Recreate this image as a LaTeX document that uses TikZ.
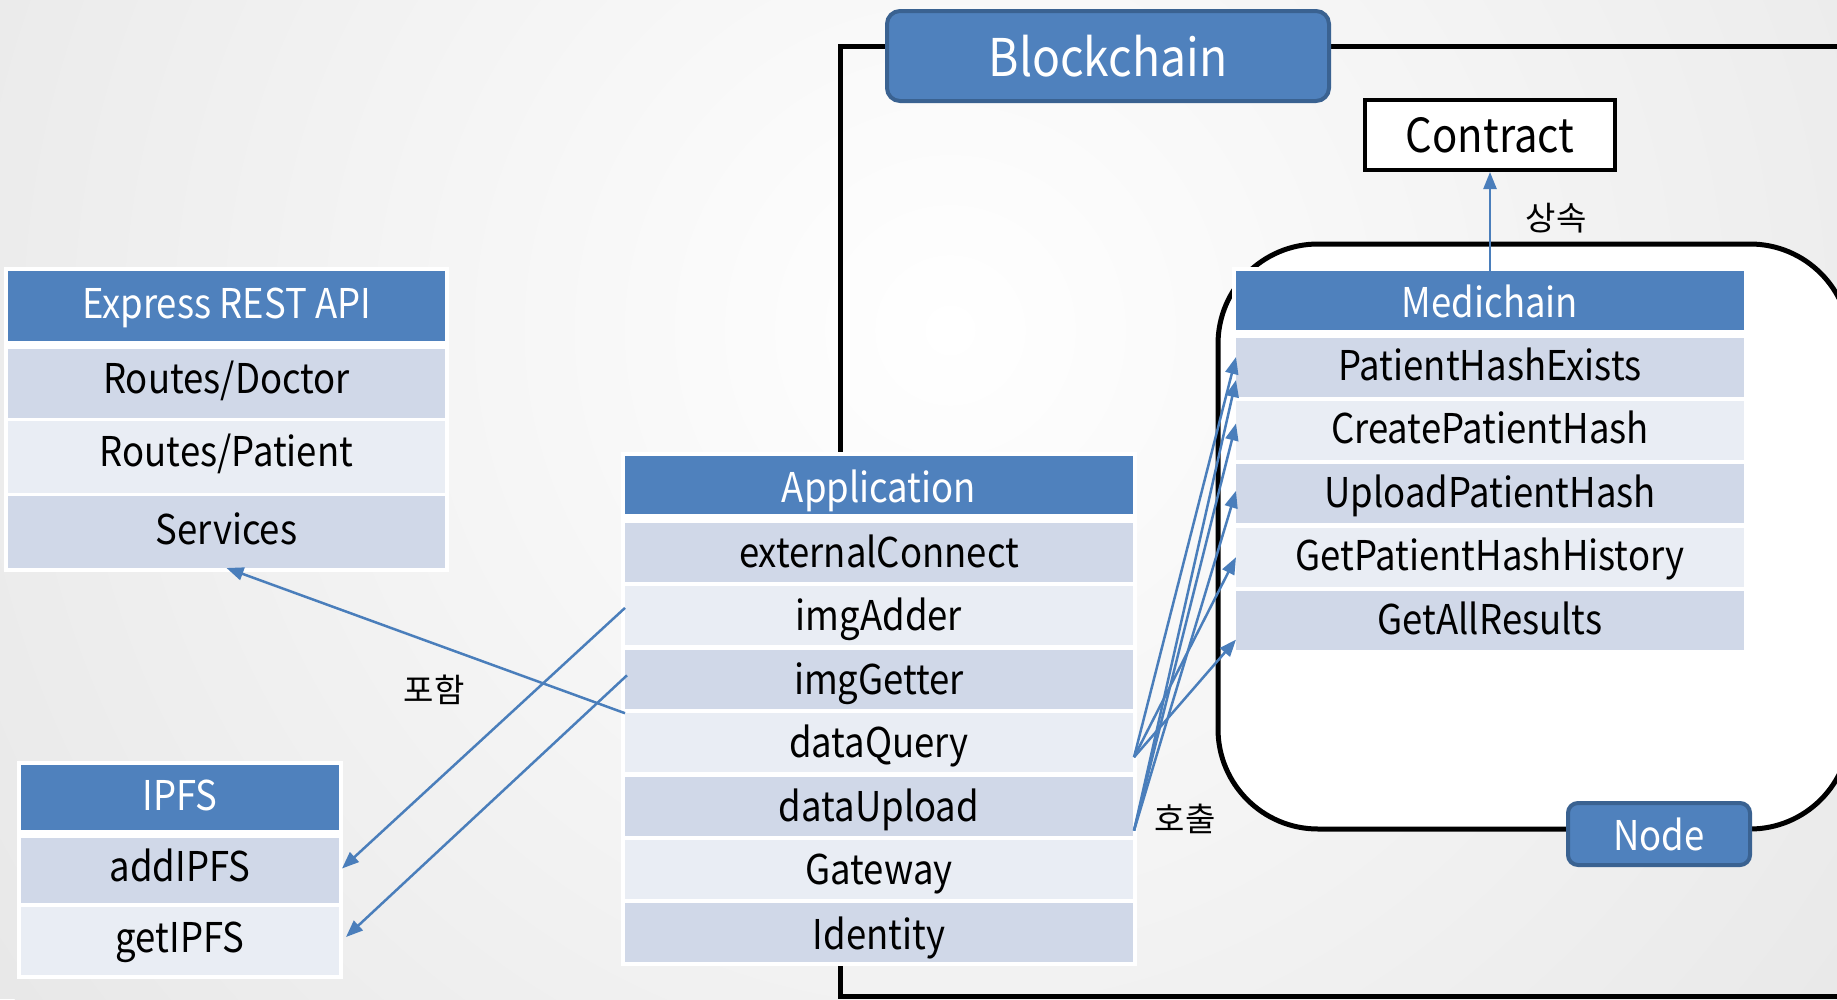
\documentclass[tikz,border=0pt]{standalone}
\usepackage{fontspec}
\setmainfont[FakeStretch=0.89]{Noto Sans CJK KR}
\newfontfamily\kofont{Noto Sans CJK KR}
\usetikzlibrary{arrows.meta,calc}
\definecolor{hdr}{HTML}{4F81BD}
\definecolor{rowd}{HTML}{D0D8E8}
\definecolor{rowl}{HTML}{E9EDF4}
\definecolor{bord}{HTML}{3A6291}
\definecolor{arr}{HTML}{4A7EBB}
\tikzset{
  cellbase/.style={inner sep=0pt, outer sep=0pt, font=\fontsize{41}{49}\selectfont},
  hcell/.style={cellbase, fill=hdr, text=white},
  dcell/.style={cellbase, fill=rowd, text=black},
  lcell/.style={cellbase, fill=rowl, text=black},
  exptxt/.style={text height=29pt, text depth=10pt},
  ipfstxt/.style={text height=29pt, text depth=7pt},
  apptxt/.style={text height=35pt, text depth=5pt},
  medtxt/.style={text height=33pt, text depth=6pt},
  exphtxt/.style={text height=34pt, text depth=10pt},
  ipfshtxt/.style={text height=33pt, text depth=7pt},
  apphtxt/.style={text height=39pt, text depth=5pt},
  medhtxt/.style={text height=39pt, text depth=6pt},
  backing/.style={fill=white, inner sep=0pt, outer sep=0pt},
  titlebox/.style={draw=bord, line width=4pt, fill=hdr, text=white, rounded corners=13pt, inner sep=0pt},
  conn/.style={draw=arr, line width=2.5pt, -{Triangle[length=17pt,width=13pt]}},
  lbl/.style={font=\kofont\fontsize{33}{36}\selectfont, text=black, inner sep=0pt}
}
\begin{document}
\begin{tikzpicture}[x=1pt,y=-1pt]
\useasboundingbox (0,0) rectangle (1837,999);
% background
\fill[black!9] (0,0) rectangle (1837,999);
\shade[inner color=white, outer color=black!9] (950,330) circle (1150);

% Blockchain frame and Node container
\node[draw, line width=5pt, minimum width=1020pt, minimum height=950pt, inner sep=0pt] (bcframe) at (1350,521) {};
\node[draw, line width=5pt, fill=white, rounded corners=100pt, minimum width=632pt, minimum height=585pt, inner sep=0pt] (nodebox) at (1534,536.5) {};

% Express REST API
\node[backing, minimum width=445pt, minimum height=305pt] (expbg) at (226.5,419.5) {};
\node[hcell, exphtxt, minimum width=437pt, minimum height=70pt] (exph) at (226.5,306) {Express REST API};
\node[dcell, exptxt, minimum width=437pt, minimum height=69pt] (doctor) at (226.5,383.5) {Routes/Doctor};
\node[lcell, exptxt, minimum width=437pt, minimum height=72pt] (patient) at (226.5,457) {Routes/Patient};
\node[dcell, exphtxt, minimum width=437pt, minimum height=72pt] (services) at (226.5,532) {Services};

% IPFS
\node[backing, minimum width=326pt, minimum height=218pt] (ipfsbg) at (180,870) {};
\node[hcell, ipfshtxt, minimum width=318pt, minimum height=65pt] (ipfsh) at (180,797.5) {IPFS};
\node[dcell, ipfstxt, minimum width=318pt, minimum height=65pt] (addIPFS) at (180,870.5) {addIPFS};
\node[lcell, ipfstxt, minimum width=318pt, minimum height=68pt] (getIPFS) at (180,941) {getIPFS};

% Application
\node[backing, minimum width=516pt, minimum height=514pt] (appbg) at (879,709) {};
\node[hcell, apphtxt, minimum width=508pt, minimum height=58pt] (apph) at (879,485) {Application};
\node[dcell, apptxt, minimum width=508pt, minimum height=59pt] (externalConnect) at (879,552.5) {externalConnect};
\node[lcell, apptxt, minimum width=508pt, minimum height=59pt] (imgAdder) at (879,615.9) {imgAdder};
\node[dcell, apptxt, minimum width=508pt, minimum height=59pt] (imgGetter) at (879,679.3) {imgGetter};
\node[lcell, apptxt, minimum width=508pt, minimum height=59pt] (dataQuery) at (879,742.7) {dataQuery};
\node[dcell, apptxt, minimum width=508pt, minimum height=59pt] (dataUpload) at (879,806.1) {dataUpload};
\node[lcell, apptxt, minimum width=508pt, minimum height=59pt] (gateway) at (879,869.5) {Gateway};
\node[dcell, apphtxt, minimum width=508pt, minimum height=59pt] (identity) at (879,932.9) {Identity};

% Medichain
\node[backing, minimum width=516pt, minimum height=387pt] (medbg) at (1490,460.5) {};
\node[hcell, medhtxt, minimum width=508pt, minimum height=59pt] (medh) at (1490,300.5) {Medichain};
\node[dcell, medtxt, minimum width=508pt, minimum height=59pt] (phe) at (1490,367) {PatientHashExists};
\node[lcell, medtxt, minimum width=508pt, minimum height=59pt] (cph) at (1490,430.4) {CreatePatientHash};
\node[dcell, medtxt, minimum width=508pt, minimum height=59pt] (uph) at (1490,493.8) {UploadPatientHash};
\node[lcell, medtxt, minimum width=508pt, minimum height=59pt] (gphh) at (1490,557.2) {GetPatientHashHistory};
\node[dcell, medtxt, minimum width=508pt, minimum height=59pt] (gar) at (1490,620.6) {GetAllResults};

% Title boxes
\node[titlebox, minimum width=442pt, minimum height=90pt, font=\fontsize{52}{60}\selectfont] (blockchain) at (1108,56) {Blockchain};
\node[titlebox, rounded corners=10pt, minimum width=182pt, minimum height=62pt, font=\fontsize{41}{49}\selectfont] (nodetitle) at (1659,834) {Node};
\node[draw=black, line width=4pt, fill=white, minimum width=250pt, minimum height=70pt, inner sep=0pt, font=\fontsize{47}{54}\selectfont] (contract) at (1490,135) {Contract};

% Connectors
\draw[conn] (medh.north) -- (contract.south);
\draw[conn] (dataQuery.north west) -- (services.south);
\draw[conn] ($(imgAdder.west)+(0,-8)$) -- ($(addIPFS.east)+(3,-2)$);
\draw[conn] ($(imgGetter.west)+(2,-4)$) -- ($(getIPFS.east)+(7,-4)$);
\coordinate (qsrc) at ($(dataQuery.south east)+(1,-15)$);
\coordinate (usrc) at ($(dataUpload.south east)+(1,-5)$);
\draw[conn] (qsrc) -- ($(phe.west)+(0,-10)$);
\draw[conn] (qsrc) -- (gphh.west);
\draw[conn] (qsrc) -- ($(gar.west)+(0,19)$);
\draw[conn] (usrc) -- ($(phe.west)+(0,13)$);
\draw[conn] (usrc) -- ($(cph.west)+(0,-7)$);
\draw[conn] (usrc) -- ($(uph.west)+(0,-3)$);

% Labels
\node[lbl] (lblinc) at (434,690) {포함};
\node[lbl] (lblinh) at (1556,218) {상속};
\node[lbl] (lblcall) at (1185,819) {호출};
\end{tikzpicture}
\end{document}
